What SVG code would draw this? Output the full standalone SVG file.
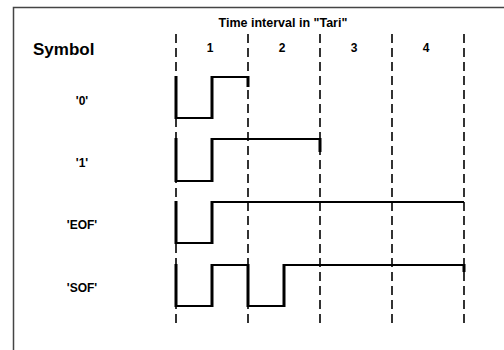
<svg xmlns="http://www.w3.org/2000/svg" width="504" height="350" viewBox="0 0 504 350">
<style>
text{font-family:"Liberation Sans",Arial,sans-serif;font-weight:bold;fill:#000}
.lbl{font-size:12px;text-anchor:middle}
.grid{stroke:#000;stroke-width:1.6;stroke-dasharray:9,5;fill:none}
.h{stroke:#000;stroke-width:2;fill:none}
.v{stroke:#000;stroke-width:3;fill:none}
</style>
<rect x="13.5" y="7.5" width="600" height="400" fill="#fff" stroke="#444" stroke-width="1.5"/>
<g id="header">
<text x="283" y="27" class="lbl" style="font-size:12.5px">Time interval in "Tari"</text>
<text x="33" y="55" style="font-size:17px">Symbol</text>
<text x="210" y="52" class="lbl">1</text>
<text x="282" y="52" class="lbl">2</text>
<text x="354" y="52" class="lbl">3</text>
<text x="426" y="52" class="lbl">4</text>
</g>
<g id="grid">
<line class="grid" x1="176" y1="34" x2="176" y2="328"/>
<line class="grid" x1="248" y1="34" x2="248" y2="328"/>
<line class="grid" x1="320" y1="34" x2="320" y2="328"/>
<line class="grid" x1="392" y1="34" x2="392" y2="328"/>
<line class="grid" x1="464" y1="34" x2="464" y2="328"/>
</g>
<g id="sym0">
<text x="82" y="105" class="lbl">'0'</text>
<path class="h" d="M176 118H212M212 77H248"/>
<path class="v" d="M176 76V119M212 119V76M248 76V87"/>
</g>
<g id="sym1">
<text x="82" y="167" class="lbl">'1'</text>
<path class="h" d="M176 181H212M212 139H320"/>
<path class="v" d="M176 138V182M212 182V138M320 138V152"/>
</g>
<g id="symEOF">
<text x="82" y="229" class="lbl">'EOF'</text>
<path class="h" d="M176 243H212M212 202H464"/>
<path class="v" d="M176 201V244M212 244V201"/>
</g>
<g id="symSOF">
<text x="82" y="292" class="lbl">'SOF'</text>
<path class="h" d="M176 306H212M212 265H248M248 306H284M284 265H464"/>
<path class="v" d="M176 264V307M212 307V264M248 264V307M284 307V264M464 264V272"/>
</g>
</svg>
